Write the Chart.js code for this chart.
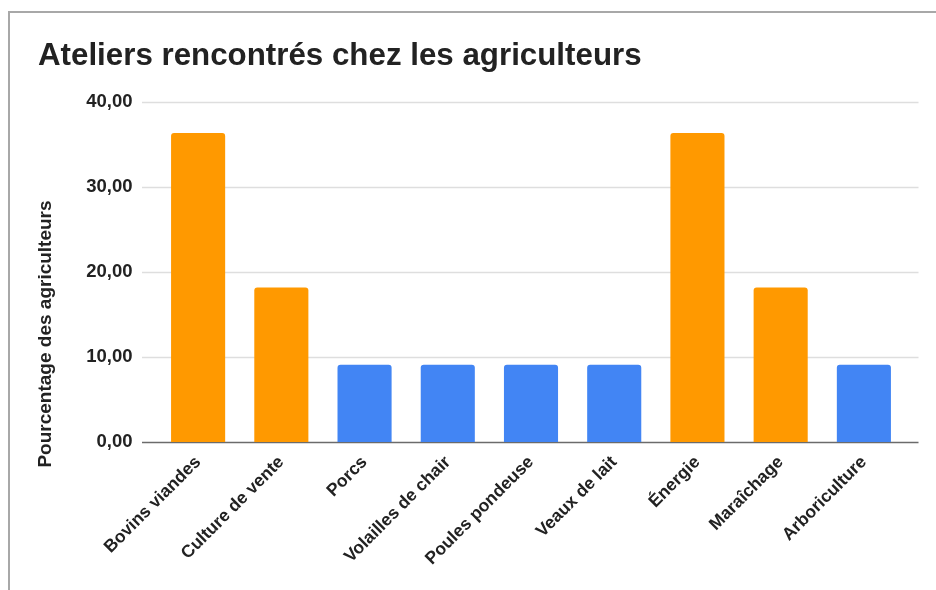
<!DOCTYPE html>
<html>
<head>
<meta charset="utf-8">
<script src="https://cdn.jsdelivr.net/npm/chart.js@4/dist/chart.umd.min.js"></script>
<style>
  body { margin: 0; background: #fff; }
  #wrap { position: relative; width: 936px; height: 590px; }
  #frame { position: absolute; left: 8px; top: 11px; right: 0; bottom: 0;
           border-left: 2px solid #a8a8a8; border-top: 2px solid #a8a8a8; pointer-events: none; }
</style>
</head>
<body>
<div id="wrap">
  <canvas id="ateliersChart" width="936" height="590"></canvas>
  <div id="frame"></div>
</div>
<script>
const categories = ['Bovins viandes', 'Culture de vente', 'Porcs', 'Volailles de chair',
  'Poules pondeuse', 'Veaux de lait', 'Énergie', 'Maraîchage', 'Arboriculture'];
const percentages = [36.36, 18.18, 9.09, 9.09, 9.09, 9.09, 36.36, 18.18, 9.09];
const yTicks = [0, 10, 20, 30, 40];

const ORANGE = '#ff9900';
const BLUE = '#4285f4';
const barColors = [ORANGE, ORANGE, BLUE, BLUE, BLUE, BLUE, ORANGE, ORANGE, BLUE];

const FONT = '"Liberation Sans", Arial, sans-serif';
const fmt = v => v.toFixed(2).replace('.', ',');

// grille horizontale un peu plus large que la zone des barres (comme Google Sheets)
const gridPlugin = {
  id: 'gridPlugin',
  beforeDatasetsDraw(chart) {
    const { ctx, chartArea, scales } = chart;
    ctx.save();
    yTicks.forEach(t => {
      const y = Math.round(scales.y.getPixelForValue(t)) + 0.5;
      ctx.beginPath();
      ctx.moveTo(chartArea.left - 14.5, y);
      ctx.lineTo(chartArea.right + 13, y);
      ctx.strokeStyle = t === 0 ? '#6b6b6b' : '#dedede';
      ctx.lineWidth = 1.5;
      ctx.stroke();
    });
    ctx.restore();
  }
};

// titre de l'axe vertical
const yTitlePlugin = {
  id: 'yTitlePlugin',
  afterDraw(chart) {
    const { ctx } = chart;
    ctx.save();
    ctx.translate(46, 334);
    ctx.rotate(-Math.PI / 2);
    ctx.font = 'bold 19px ' + FONT;
    ctx.fillStyle = '#222';
    ctx.textAlign = 'center';
    ctx.textBaseline = 'middle';
    ctx.fillText('Pourcentage des agriculteurs', 0, 0);
    ctx.restore();
  }
};

const ctx = document.getElementById('ateliersChart').getContext('2d');
new Chart(ctx, {
  type: 'bar',
  data: {
    labels: categories,
    datasets: [{
      data: percentages,
      backgroundColor: barColors,
      borderRadius: { topLeft: 3, topRight: 3 },
      borderSkipped: 'bottom',
      barPercentage: 0.65,
      categoryPercentage: 1
    }]
  },
  options: {
    responsive: false,
    animation: false,
    layout: { padding: { left: 38, right: 30.5, top: 0, bottom: 0 } },
    plugins: {
      legend: { display: false },
      tooltip: { enabled: false },
      title: {
        display: true,
        text: 'Ateliers rencontrés chez les agriculteurs',
        align: 'start',
        color: '#222',
        font: { family: FONT, size: 31.3, weight: 'bold' },
        padding: { top: 38, bottom: 26.5 }
      }
    },
    scales: {
      x: {
        grid: { display: false, drawTicks: false },
        border: { display: false },
        afterFit: s => { s.height = 148; },
        ticks: {
          maxRotation: 45,
          minRotation: 45,
          padding: 10,
          color: '#222',
          font: { family: FONT, size: 17.5, weight: 'bold' }
        }
      },
      y: {
        min: 0,
        max: 40,
        afterFit: s => { s.width = 118.5; },
        afterBuildTicks: s => { s.ticks = yTicks.map(v => ({ value: v })); },
        grid: { display: false, drawTicks: false },
        border: { display: false },
        ticks: {
          padding: 24,
          color: '#222',
          callback: v => fmt(v),
          font: { family: FONT, size: 18.5, weight: 'bold' }
        }
      }
    }
  },
  plugins: [gridPlugin, yTitlePlugin]
});
</script>
</body>
</html>
